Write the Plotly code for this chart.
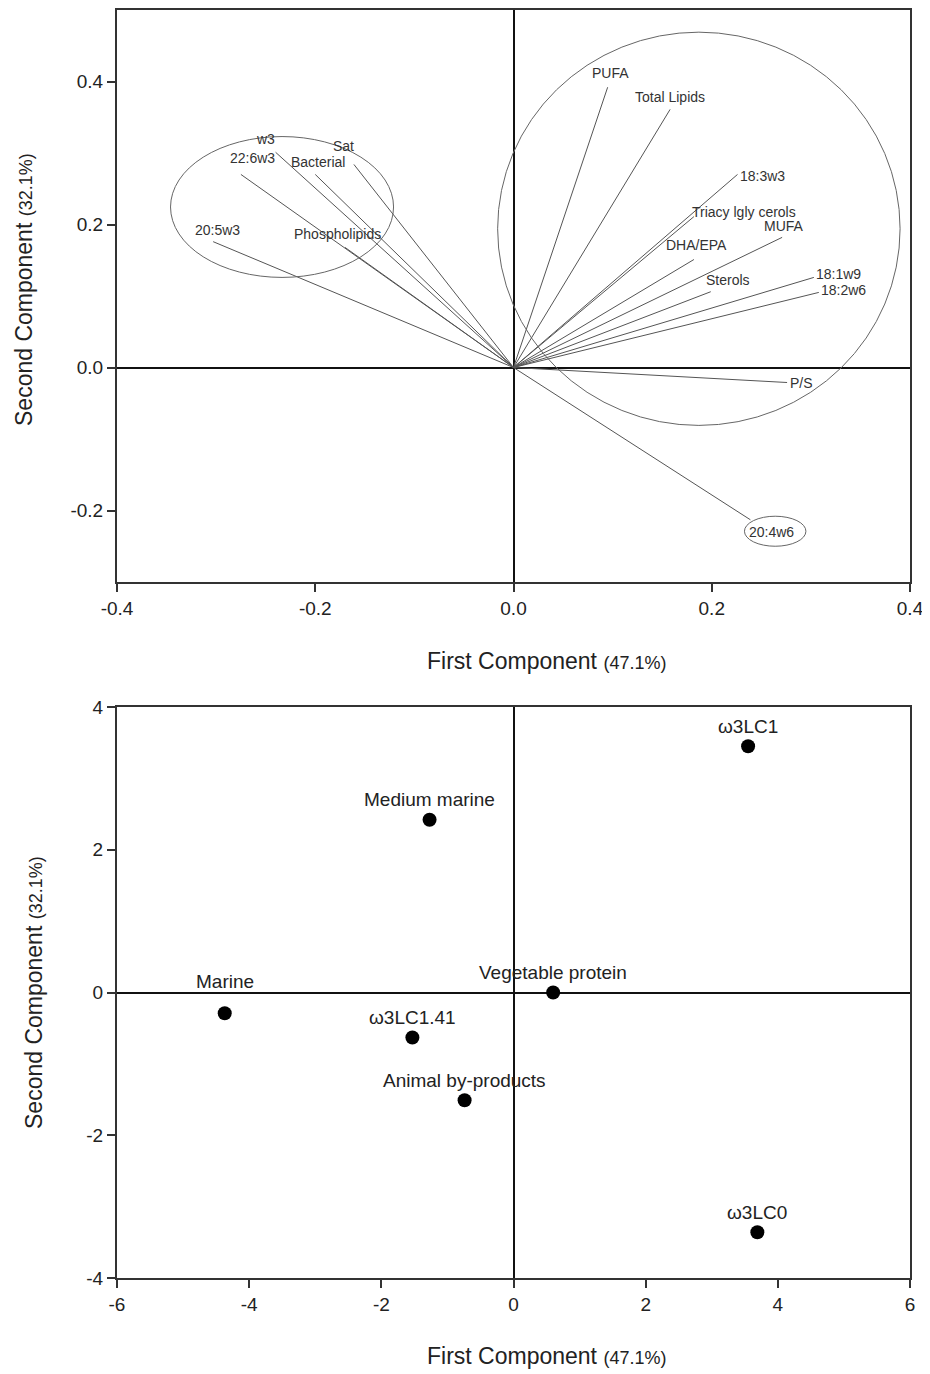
import plotly.graph_objects as go

# ---------------- data: loadings (top panel) ----------------
var_names = ["PUFA", "Total Lipids", "18:3w3", "Triacy lgly cerols", "MUFA", "DHA/EPA",
             "Sterols", "18:1w9", "18:2w6", "P/S", "20:4w6",
             "w3", "22:6w3", "Bacterial", "Sat", "20:5w3", "Phospholipids"]
load_pc1 = [0.095, 0.158, 0.226, 0.182, 0.271, 0.182,
            0.199, 0.303, 0.308, 0.276, 0.239,
            -0.240, -0.275, -0.200, -0.161, -0.303, -0.170]
load_pc2 = [0.392, 0.361, 0.270, 0.211, 0.182, 0.151,
            0.106, 0.126, 0.105, -0.021, -0.213,
            0.301, 0.270, 0.270, 0.284, 0.176, 0.168]

# ellipses grouping loadings: (x0, y0, x1, y1) in data units
ellipse_groups = [(-0.346, 0.126, -0.121, 0.323),
                  (-0.016, -0.081, 0.390, 0.469),
                  (0.233, -0.250, 0.295, -0.208)]

# ---------------- data: scores (bottom panel) ----------------
diet_names = ["ω3LC1", "Medium marine", "Vegetable protein", "Marine",
              "ω3LC1.41", "Animal by-products", "ω3LC0"]
score_pc1 = [3.55, -1.27, 0.60, -4.37, -1.53, -0.74, 3.69]
score_pc2 = [3.45, 2.42, 0.00, -0.29, -0.63, -1.51, -3.36]

# tick labels
top_xticks = [-0.4, -0.2, 0.0, 0.2, 0.4]
top_yticks = [-0.2, 0.0, 0.2, 0.4]
bot_xticks = [-6, -4, -2, 0, 2, 4, 6]
bot_yticks = [-4, -2, 0, 2, 4]

# label placement (styling only)
var_anchor = {
    "PUFA": ("center", "bottom", 3, 4), "Total Lipids": ("center", "bottom", 0, 2),
    "18:3w3": ("left", "middle", 0, -2), "Triacy lgly cerols": ("left", "middle", -4, 5),
    "MUFA": ("center", "bottom", 2, 1), "DHA/EPA": ("center", "bottom", 3, 5),
    "Sterols": ("center", "bottom", 17, 2), "18:1w9": ("left", "middle", 0, 3),
    "18:2w6": ("left", "middle", 0, 2), "P/S": ("left", "middle", 1, 0),
    "20:4w6": ("left", "middle", -3, -12),
    "w3": ("center", "bottom", -10, 3), "22:6w3": ("center", "bottom", 12, 6),
    "Bacterial": ("center", "bottom", 3, 2), "Sat": ("center", "bottom", -10, 8),
    "20:5w3": ("center", "bottom", 4, 2), "Phospholipids": ("center", "bottom", -7, 3),
}
diet_shift = {"Marine": 32}

FONT = "Liberation Sans, Arial, sans-serif"
PAGE_W, PAGE_H = 930, 1374
OFF = 8  # default page body margin
W, H = PAGE_W - OFF, PAGE_H - OFF


def px_x(p):
    return (p - OFF) / W


def px_y(p):
    return 1 - (p - OFF) / H


fig = go.Figure()

# loading vectors
for name, lx, ly in zip(var_names, load_pc1, load_pc2):
    fig.add_trace(go.Scatter(x=[0, lx], y=[0, ly], mode="lines",
                             line=dict(color="#555555", width=1),
                             hoverinfo="skip", showlegend=False,
                             xaxis="x", yaxis="y"))
for name, lx, ly in zip(var_names, load_pc1, load_pc2):
    xa, ya, dx, dy = var_anchor[name]
    fig.add_annotation(x=lx, y=ly, xref="x", yref="y", text=name, showarrow=False,
                       xanchor=xa, yanchor=ya, xshift=dx, yshift=dy,
                       font=dict(family=FONT, size=14, color="#333333"))

for (x0, y0, x1, y1) in ellipse_groups:
    fig.add_shape(type="circle", xref="x", yref="y", x0=x0, y0=y0, x1=x1, y1=y1,
                  line=dict(color="#666666", width=1))

# scores
fig.add_trace(go.Scatter(x=score_pc1, y=score_pc2, mode="markers",
                         marker=dict(color="black", size=14),
                         hoverinfo="skip", showlegend=False,
                         xaxis="x2", yaxis="y2"))
for name, sx, sy in zip(diet_names, score_pc1, score_pc2):
    fig.add_annotation(x=sx, y=sy, xref="x2", yref="y2", text=name, showarrow=False,
                       xanchor="center", yanchor="middle",
                       yshift=diet_shift.get(name, 20),
                       font=dict(family=FONT, size=19, color="#222222"))

xdom = [px_x(117), px_x(910)]
top_dom = [px_y(582), px_y(10)]
bot_dom = [px_y(1278), px_y(707)]

axis_common = dict(showgrid=False, showline=True, linecolor="#333333", linewidth=2,
                   mirror=True, ticks="outside", ticklen=8, tickwidth=1.5,
                   tickcolor="#333333", zeroline=True, zerolinecolor="#111111",
                   zerolinewidth=1.5, automargin=False,
                   tickfont=dict(family=FONT, size=19, color="#222222"))


def fmt(vals, d):
    return [f"{v:.{d}f}" for v in vals]


fig.update_layout(
    width=W, height=H, margin=dict(l=0, r=0, t=0, b=0, autoexpand=False),
    plot_bgcolor="white", paper_bgcolor="white", showlegend=False,
    xaxis=dict(domain=xdom, anchor="y", range=[-0.4, 0.4], tickvals=top_xticks,
               ticktext=fmt(top_xticks, 1), **axis_common),
    yaxis=dict(domain=top_dom, anchor="x", range=[-0.3, 0.5], tickvals=top_yticks,
               ticktext=fmt(top_yticks, 1), **axis_common),
    xaxis2=dict(domain=xdom, anchor="y2", range=[-6, 6], tickvals=bot_xticks,
                ticktext=fmt(bot_xticks, 0), **axis_common),
    yaxis2=dict(domain=bot_dom, anchor="x2", range=[-4, 4], tickvals=bot_yticks,
                ticktext=fmt(bot_yticks, 0), **axis_common),
)

xt = "First Component <span style='font-size:18px'>(47.1%)</span>"
yt = "Second Component <span style='font-size:18px'>(32.1%)</span>"
for ypix in (661, 1356):
    fig.add_annotation(x=px_x(546), y=px_y(ypix), xref="paper", yref="paper", text=xt,
                       showarrow=False, xanchor="center", yanchor="middle",
                       font=dict(family=FONT, size=23, color="#222222"))
for ypix, xpix in ((290, 24), (993, 34)):
    fig.add_annotation(x=px_x(xpix), y=px_y(ypix), xref="paper", yref="paper", text=yt,
                       showarrow=False, xanchor="center", yanchor="middle", textangle=-90,
                       font=dict(family=FONT, size=23, color="#222222"))

fig.write_html("out.html")
